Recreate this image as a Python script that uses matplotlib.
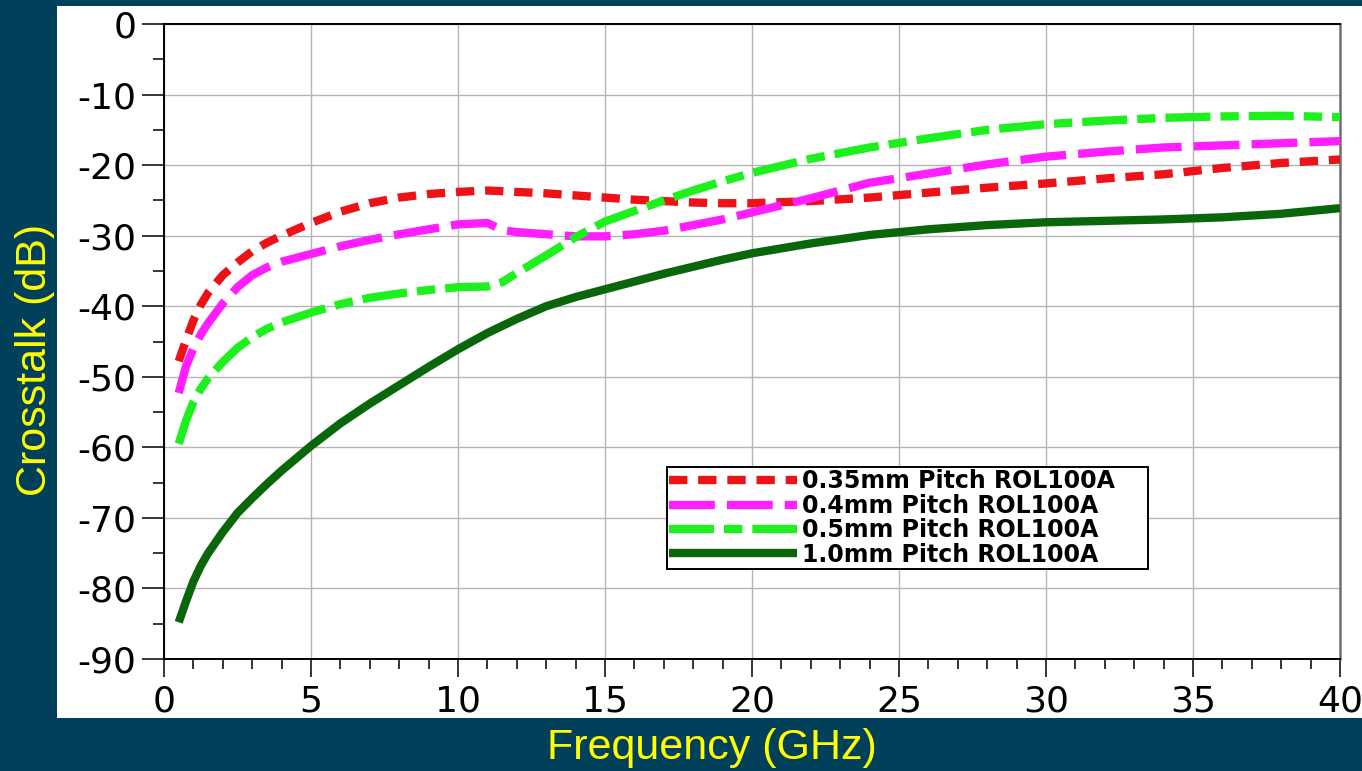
import matplotlib
matplotlib.use('Agg')
import matplotlib.pyplot as plt
from matplotlib.patches import Rectangle
from matplotlib.ticker import MultipleLocator

# Данные (частота в ГГц, перекрёстные помехи в дБ)
freq = [0.5, 0.75, 1, 1.25, 1.5, 2, 2.5, 3, 3.5, 4, 5, 6, 7, 8, 9, 10, 11, 11.5, 12, 13,
        14, 15, 16, 17, 18, 19, 20, 22, 24, 26, 28, 30, 32, 34, 36, 38, 40]

pitch_035 = [-47.8, -44.8, -42.0, -39.8, -38.1, -35.6, -33.8, -32.2, -31.0, -30.0, -28.2,
             -26.6, -25.4, -24.6, -24.1, -23.8, -23.6, -23.7, -23.8, -24.0, -24.3, -24.6,
             -24.9, -25.1, -25.3, -25.4, -25.4, -25.1, -24.6, -23.9, -23.2, -22.6, -21.9,
             -21.3, -20.4, -19.7, -19.2]

pitch_04 = [-52.3, -48.5, -46.0, -44.0, -42.4, -39.6, -37.3, -35.6, -34.5, -33.7, -32.6,
            -31.5, -30.6, -29.8, -29.1, -28.4, -28.2, -29.2, -29.5, -29.8, -30.1, -30.1,
            -29.8, -29.3, -28.5, -27.7, -26.7, -24.7, -22.5, -21.2, -19.9, -18.8, -18.1,
            -17.5, -17.2, -16.9, -16.6]

pitch_05 = [-59.5, -56.2, -53.6, -51.7, -50.2, -47.9, -45.9, -44.4, -43.2, -42.3, -40.9,
            -39.7, -38.8, -38.2, -37.7, -37.3, -37.2, -36.6, -35.3, -32.8, -30.2, -28.0,
            -26.5, -25.0, -23.6, -22.3, -21.1, -19.1, -17.5, -16.2, -15.0, -14.2, -13.7,
            -13.3, -13.1, -13.0, -13.2]

pitch_10 = [-84.8, -81.8, -79.0, -76.8, -75.0, -72.0, -69.3, -67.2, -65.2, -63.3, -59.8,
            -56.6, -53.8, -51.2, -48.6, -46.1, -43.8, -42.8, -41.8, -40.0, -38.7, -37.6,
            -36.5, -35.4, -34.4, -33.4, -32.5, -31.1, -29.9, -29.1, -28.5, -28.1, -27.9,
            -27.7, -27.4, -26.9, -26.1]

labels = ['0.35mm Pitch ROL100A', '0.4mm Pitch ROL100A',
          '0.5mm Pitch ROL100A', '1.0mm Pitch ROL100A']

x_ticks = [0, 5, 10, 15, 20, 25, 30, 35, 40]
y_ticks = [0, -10, -20, -30, -40, -50, -60, -70, -80, -90]

# Цвета и стили линий
bg_color = '#01405A'
colors = ['#EC1218', '#FF1EFF', '#1EF01E', '#0A660A']
styles = [(0, (2.2, 1.3)), (0, (5.5, 1.45)), (0, (5.4, 1.2, 2.2, 1.2)), '-']

plt.rcParams['axes.unicode_minus'] = False

fig = plt.figure(figsize=(13.62, 7.71), dpi=100, facecolor=bg_color)

# Белая подложка под графиком
panel = Rectangle((57 / 1362, 53 / 771), 1 - 57 / 1362, 712 / 771,
                  transform=fig.transFigure, facecolor='white', edgecolor='none', zorder=-10)
fig.patches.append(panel)

ax = fig.add_axes([164 / 1362, 112 / 771, 1176 / 1362, 635 / 771])
ax.set_facecolor('white')

series = [pitch_035, pitch_04, pitch_05, pitch_10]
for values, color, style, label in zip(series, colors, styles, labels):
    ax.plot(freq, values, color=color, linestyle=style, linewidth=6, label=label,
            dash_capstyle='butt', solid_capstyle='butt', solid_joinstyle='round', zorder=3)

# Настройки осей
ax.set_xlim(0, 40)
ax.set_ylim(-90, 0)
ax.set_xticks(x_ticks)
ax.set_yticks(y_ticks)
ax.xaxis.set_minor_locator(MultipleLocator(1))
ax.yaxis.set_minor_locator(MultipleLocator(5))
ax.grid(True, which='major', color='#b4b4b4', linewidth=1.0, zorder=1)

ax.tick_params(axis='y', which='major', direction='out', length=16, width=1.1,
               labelsize=26, pad=4, colors='black')
ax.tick_params(axis='y', which='minor', direction='out', length=8, width=1.1)
ax.tick_params(axis='x', which='major', direction='out', length=13, width=1.1,
               labelsize=26, pad=5, colors='black')
ax.tick_params(axis='x', which='minor', direction='out', length=7, width=1.1)
for lbl in ax.get_xticklabels() + ax.get_yticklabels():
    lbl.set_family('DejaVu Sans')

for side in ['left', 'bottom', 'top']:
    ax.spines[side].set_color('black')
    ax.spines[side].set_linewidth(1.4)
ax.spines['right'].set_color('#707070')
ax.spines['right'].set_linewidth(1.8)

ax.set_xlabel('Frequency (GHz)', fontsize=31, color='#FFFF00',
              family='Liberation Sans', va='center')
ax.xaxis.set_label_coords(0.466, -0.140)
ax.set_ylabel('Crosstalk (dB)', fontsize=31, color='#FFFF00',
              family='Liberation Sans', va='center')
ax.yaxis.set_label_coords(-0.1097, 0.471)

# Легенда
leg = ax.legend(loc='upper left', bbox_to_anchor=(0.4277, 0.1496, 0.409, 0.1528),
                mode='expand', borderaxespad=0, fancybox=False, framealpha=1,
                edgecolor='black', handlelength=5.4, handletextpad=0.2,
                labelspacing=0.02, borderpad=0.1,
                prop={'family': 'DejaVu Sans', 'weight': 'bold', 'size': 17})
leg.get_frame().set_linewidth(1.4)

fig.savefig('out.png', dpi=100, facecolor=bg_color)
